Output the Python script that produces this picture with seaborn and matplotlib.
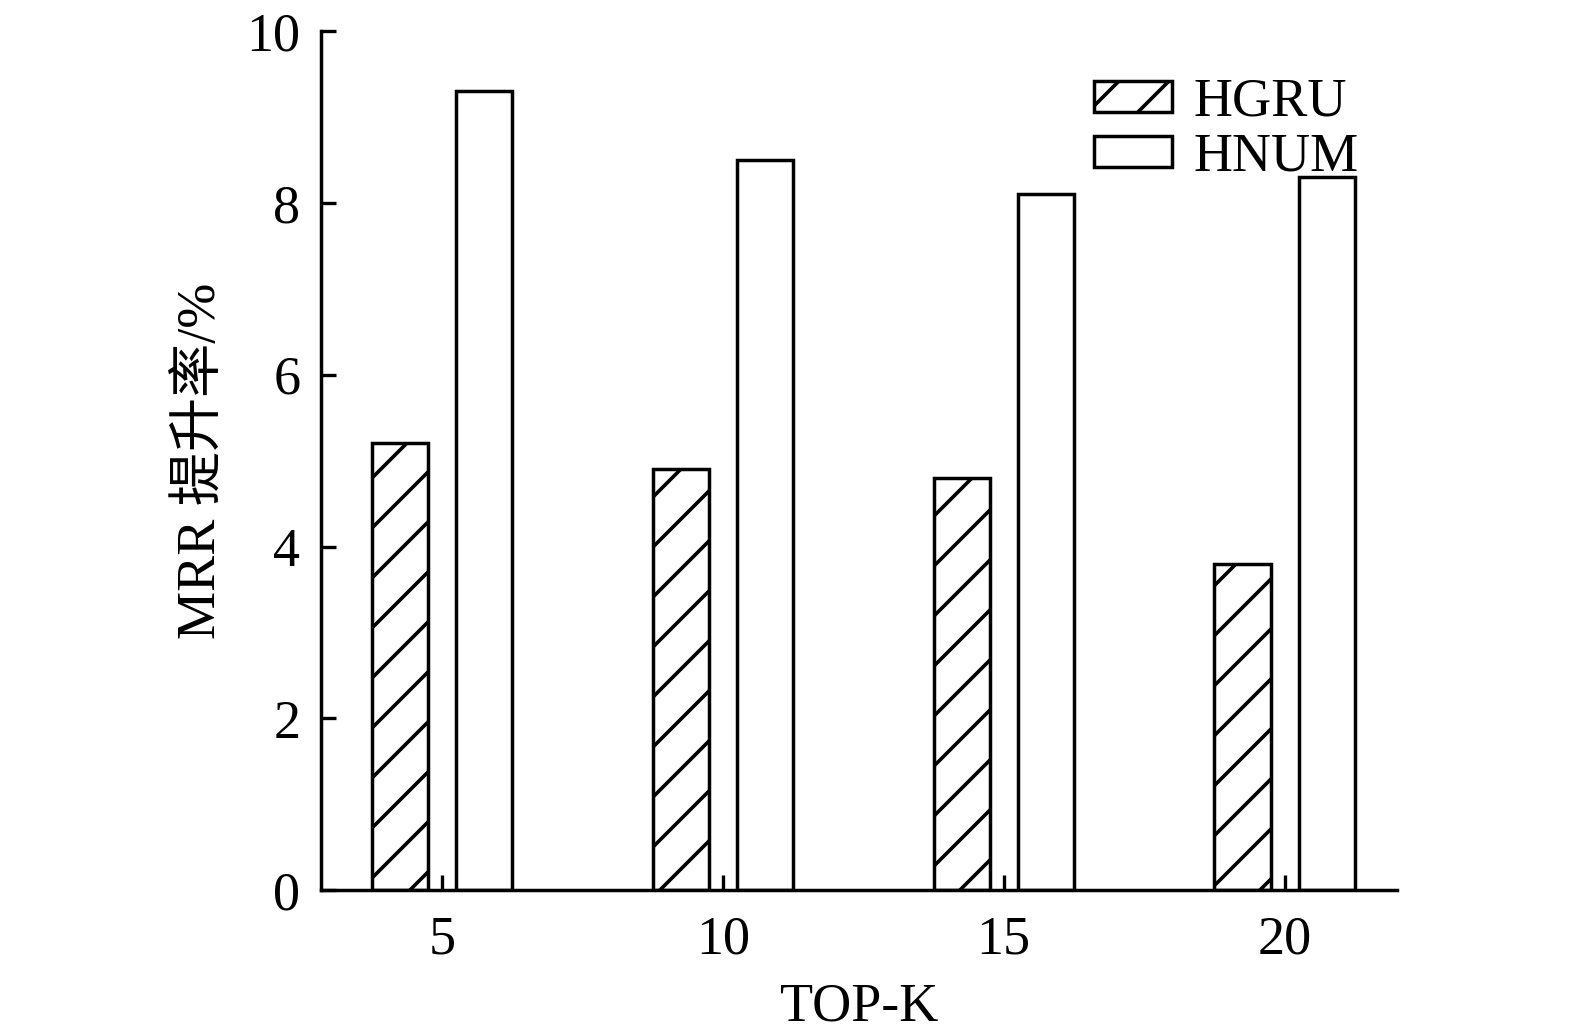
import matplotlib
matplotlib.use("Agg")
import matplotlib.pyplot as plt
import matplotlib.patches as mpatches
from matplotlib.backend_bases import GraphicsContextBase
import pandas as pd
import seaborn as sns

topk = ["5", "10", "15", "20"]
models = ["HGRU", "HNUM"]
hgru = [5.2, 4.9, 4.8, 3.8]
hnum = [9.3, 8.5, 8.1, 8.3]
yticks = [0, 2, 4, 6, 8, 10]

#sparser hatch lines than the matplotlib default
_orig_hatch = GraphicsContextBase.get_hatch_path
GraphicsContextBase.get_hatch_path = lambda self, density=4.0: _orig_hatch(self, 4.0)

sns.set_style("ticks")
plt.rcParams['font.family'] = ['Liberation Serif', 'Noto Sans CJK SC']
plt.rcParams['hatch.linewidth'] = 2.6
plt.rcParams['hatch.color'] = 'black'
for k in ['text.color', 'axes.labelcolor', 'xtick.color', 'ytick.color', 'axes.edgecolor']:
    plt.rcParams[k] = 'black'

df = pd.DataFrame({
    "topk": topk * 2,
    "model": [models[0]] * 4 + [models[1]] * 4,
    "value": hgru + hnum,
})

fig = plt.figure(figsize=(15.75, 10.34), dpi=100)
ax = fig.add_axes([0.204, 0.139, 0.683, 0.831])

sns.barplot(data=df, x="topk", y="value", hue="model", order=topk, hue_order=models,
            palette=["white", "white"], edgecolor="black", linewidth=2.5,
            width=0.6, gap=1/3, legend=False, ax=ax)

for bar in ax.containers[0]:
    bar.set_hatch("/")

ax.set_xlim(-0.43, 3.40)
ax.set_ylim(0, 10)
ax.set_yticks(yticks)
ax.set_yticklabels([str(v) for v in yticks])
ax.tick_params(axis="both", direction="in", length=11, width=2.4, labelsize=39, color="black")
ax.tick_params(axis="y", pad=15)
ax.tick_params(axis="x", pad=18)
sns.despine(ax=ax)
for s in ["left", "bottom"]:
    ax.spines[s].set_linewidth(2.5)

ax.set_xlabel("TOP-K", fontsize=39, labelpad=12)
ax.set_ylabel("MRR 提升率/%", fontsize=39, labelpad=14)

handles = [mpatches.Patch(facecolor="white", edgecolor="black", linewidth=2.5, hatch="/", label=models[0]),
           mpatches.Patch(facecolor="white", edgecolor="black", linewidth=2.5, label=models[1])]
ax.legend(handles=handles, frameon=False, fontsize=39, loc="upper right",
          bbox_to_anchor=(0.995, 0.984), handlelength=1.45, handleheight=0.5,
          handletextpad=0.4, labelspacing=0.08, borderaxespad=0.2)

fig.savefig("out.png", dpi=100)
